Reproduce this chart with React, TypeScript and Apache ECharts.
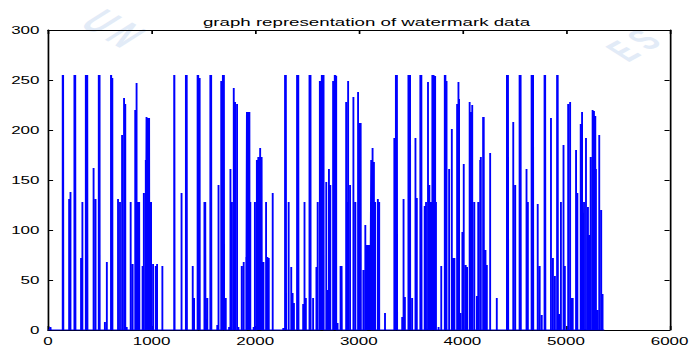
import React, { useEffect, useRef } from "react";
import * as echarts from "echarts";

// Horizontal stretch of the original figure (text and vertical strokes are wider than tall)
const STRETCH = 1.7;
const WIDTH = 694;
const HEIGHT = 349;

const TITLE = "graph representation of watermark data";
const X_MIN = 0;
const X_MAX = 6000;
const X_STEP = 1000;
const Y_MIN = 0;
const Y_MAX = 300;
const Y_STEP = 50;

// Spikes of the watermark signal: [startSample, endSample, value]
const spikes: [number, number, number][] = [
  [20, 26, 3],
  [142, 148, 255],
  [204, 204, 131], [217, 217, 138],
  [255, 265, 255],
  [319, 319, 72], [332, 332, 128],
  [365, 381, 255],
  [440, 440, 162], [459, 459, 131],
  [490, 499, 255],
  [549, 549, 8], [568, 568, 68],
  [608, 612, 255], [617, 622, 252],
  [676, 676, 131], [695, 695, 128],
  [715, 715, 195], [734, 734, 232], [746, 746, 226],
  [760, 760, 3],
  [798, 798, 128], [817, 817, 66],
  [842, 842, 220], [855, 855, 247],
  [872, 882, 128],
  [913, 913, 64], [925, 925, 137],
  [944, 944, 170], [951, 951, 213], [966, 978, 212], [995, 995, 128],
  [1014, 1014, 66], [1040, 1040, 64], [1053, 1053, 66],
  [1104, 1104, 64],
  [1218, 1222, 255],
  [1289, 1289, 137],
  [1331, 1341, 255],
  [1397, 1397, 64], [1410, 1410, 32],
  [1444, 1452, 255], [1460, 1465, 252],
  [1510, 1520, 128], [1538, 1538, 32],
  [1567, 1577, 255],
  [1634, 1634, 5], [1646, 1646, 145],
  [1672, 1672, 249], [1688, 1700, 255],
  [1716, 1716, 32],
  [1748, 1748, 3], [1761, 1761, 161], [1774, 1774, 128],
  [1793, 1793, 242], [1800, 1800, 12], [1806, 1806, 228], [1825, 1825, 226], [1838, 1838, 3],
  [1870, 1870, 64], [1889, 1889, 68],
  [1914, 1914, 73], [1920, 1926, 218], [1933, 1933, 38], [1940, 1946, 218],
  [1953, 1953, 128],
  [1985, 1985, 3], [1997, 1997, 128],
  [2016, 2016, 170], [2022, 2022, 52], [2030, 2038, 173], [2048, 2048, 182], [2056, 2064, 173],
  [2080, 2080, 68], [2105, 2105, 128], [2118, 2118, 73], [2131, 2131, 72],
  [2169, 2169, 137],
  [2271, 2271, 2], [2288, 2298, 255],
  [2323, 2323, 128],
  [2348, 2348, 63], [2361, 2361, 37], [2374, 2374, 27],
  [2404, 2418, 255],
  [2463, 2463, 26], [2476, 2476, 128], [2489, 2489, 32],
  [2524, 2535, 255],
  [2559, 2559, 32],
  [2591, 2591, 63], [2603, 2603, 128],
  [2624, 2632, 249], [2643, 2649, 255], [2654, 2654, 192], [2658, 2661, 255],
  [2686, 2686, 148], [2699, 2699, 40], [2712, 2712, 161], [2725, 2725, 145],
  [2752, 2758, 249], [2768, 2776, 255], [2782, 2782, 254],
  [2795, 2795, 7],
  [2824, 2836, 64],
  [2878, 2878, 228], [2884, 2884, 128], [2897, 2897, 249], [2916, 2916, 145],
  [2948, 2948, 233], [2967, 2967, 128],
  [2993, 2993, 238], [3008, 3020, 207],
  [3044, 3044, 60], [3063, 3063, 105], [3076, 3110, 85],
  [3120, 3120, 170], [3133, 3133, 182], [3146, 3146, 168],
  [3158, 3158, 128], [3184, 3184, 131], [3197, 3197, 128],
  [3253, 3253, 17],
  [3343, 3343, 192], [3358, 3370, 255],
  [3419, 3419, 13], [3432, 3432, 131], [3445, 3445, 33],
  [3479, 3485, 255], [3490, 3490, 145], [3493, 3496, 255],
  [3515, 3515, 32],
  [3547, 3547, 192], [3560, 3560, 132],
  [3594, 3606, 255],
  [3636, 3636, 124], [3649, 3649, 128],
  [3668, 3668, 248], [3681, 3681, 145], [3694, 3694, 128],
  [3710, 3724, 255], [3737, 3737, 254], [3745, 3745, 128],
  [3770, 3770, 3], [3796, 3796, 64],
  [3830, 3838, 255], [3847, 3847, 249],
  [3872, 3872, 161], [3898, 3898, 201], [3911, 3911, 72], [3923, 3923, 72],
  [3949, 3949, 226], [3962, 3962, 248], [3968, 3968, 231],
  [3980, 3980, 17], [4000, 4000, 98], [4013, 4013, 166],
  [4032, 4032, 65], [4045, 4045, 63],
  [4070, 4070, 228], [4083, 4083, 218], [4095, 4095, 225],
  [4115, 4115, 128], [4140, 4140, 34], [4153, 4153, 128],
  [4172, 4172, 170], [4178, 4178, 173], [4200, 4208, 213], [4223, 4223, 80], [4236, 4236, 65],
  [4268, 4268, 177],
  [4332, 4332, 32],
  [4430, 4442, 255],
  [4491, 4491, 208], [4510, 4510, 145],
  [4552, 4564, 255],
  [4619, 4619, 161], [4632, 4632, 128],
  [4668, 4684, 255],
  [4727, 4727, 126], [4746, 4746, 64], [4766, 4766, 15],
  [4793, 4801, 255],
  [4855, 4855, 212], [4874, 4874, 72],
  [4893, 4893, 54], [4914, 4922, 255], [4938, 4938, 16],
  [4951, 4951, 128], [4976, 4976, 185], [4989, 4989, 64],
  [5021, 5021, 226], [5040, 5040, 228], [5053, 5053, 32], [5065, 5065, 32],
  [5097, 5097, 180], [5110, 5110, 137],
  [5142, 5142, 206], [5155, 5155, 218], [5168, 5168, 64], [5174, 5174, 128], [5193, 5193, 192],
  [5212, 5212, 123], [5225, 5225, 95], [5238, 5238, 173], [5257, 5257, 220],
  [5270, 5270, 219], [5283, 5283, 214], [5289, 5289, 161], [5302, 5302, 20],
  [5321, 5321, 195], [5340, 5340, 120], [5353, 5353, 36],
];
const LAST_SAMPLE = 5370;

function buildLine(): [number, number][] {
  const pts: [number, number][] = [[0, 0]];
  for (const [a, b, v] of spikes) {
    pts.push([a, 0], [a, v]);
    if (b !== a) {
      // fill the run with consecutive samples so it reads as a solid bar
      for (let x = a + 2; x < b; x += 2) pts.push([x, v], [x, 0], [x, v]);
      pts.push([b, v]);
    }
    pts.push([b, 0]);
  }
  pts.push([LAST_SAMPLE, 0]);
  return pts;
}

const FONT = "Liberation Sans, Arial, Helvetica, sans-serif";
const WATERMARK_COLOR = "#e2ebf7";

export default function App() {
  const ref = useRef<HTMLDivElement>(null);
  useEffect(() => {
    if (!ref.current) return;
    const chart = echarts.init(ref.current, undefined, { renderer: "svg" });
    const axisCommon = {
      type: "value" as const,
      axisLine: { show: true, onZero: false, lineStyle: { color: "#000", width: 1 } },
      axisTick: { show: true, inside: true, length: 4, lineStyle: { color: "#000", width: 1 } },
      splitLine: { show: false },
    };
    const labelStyle = {
      color: "#000",
      fontSize: 10,
      fontFamily: FONT,
      formatter: (v: number) => String(v),
    };
    chart.setOption({
      animation: false,
      backgroundColor: "#fff",
      graphic: [
        {
          type: "text",
          z: -10,
          silent: true,
          x: 112 / STRETCH,
          y: 4,
          rotation: -0.75,
          scaleX: 1 / STRETCH,
          style: { text: "U N", fontSize: 34, fontWeight: "bold", fill: WATERMARK_COLOR, fontFamily: FONT },
        },
        {
          type: "text",
          z: -10,
          silent: true,
          x: 598 / STRETCH,
          y: 44,
          rotation: 0.75,
          scaleX: 1 / STRETCH,
          style: { text: "E S", fontSize: 30, fontWeight: "bold", fill: WATERMARK_COLOR, fontFamily: FONT },
        },
      ],
      title: {
        text: TITLE,
        left: 358 / STRETCH,
        textAlign: "center",
        top: 12,
        textStyle: { fontSize: 11, fontWeight: "normal", color: "#000", fontFamily: FONT },
      },
      grid: {
        left: 48 / STRETCH,
        right: (WIDTH - 675) / STRETCH,
        top: 30,
        bottom: HEIGHT - 330,
        containLabel: false,
      },
      xAxis: [
        { ...axisCommon, min: X_MIN, max: X_MAX, interval: X_STEP, position: "bottom",
          axisLabel: { ...labelStyle, margin: 6 } },
        { ...axisCommon, min: X_MIN, max: X_MAX, interval: X_STEP, position: "top",
          axisLabel: { show: false } },
      ],
      yAxis: [
        { ...axisCommon, min: Y_MIN, max: Y_MAX, interval: Y_STEP, position: "left",
          axisTick: { ...axisCommon.axisTick, length: 3 },
          axisLabel: { ...labelStyle, margin: 5 } },
        { ...axisCommon, min: Y_MIN, max: Y_MAX, interval: Y_STEP, position: "right",
          axisTick: { ...axisCommon.axisTick, length: 3 },
          axisLabel: { show: false } },
      ],
      series: [
        {
          type: "line",
          data: buildLine(),
          showSymbol: false,
          symbol: "none",
          lineStyle: { color: "#0000ff", width: 1.1 },
          xAxisIndex: 0,
          yAxisIndex: 0,
        },
      ],
    });
    return () => chart.dispose();
  }, []);
  return (
    <div
      ref={ref}
      style={{
        position: "fixed",
        left: 0,
        top: 0,
        width: WIDTH / STRETCH,
        height: HEIGHT,
        transform: `scaleX(${STRETCH})`,
        transformOrigin: "0 0",
        background: "#fff",
      }}
    />
  );
}
